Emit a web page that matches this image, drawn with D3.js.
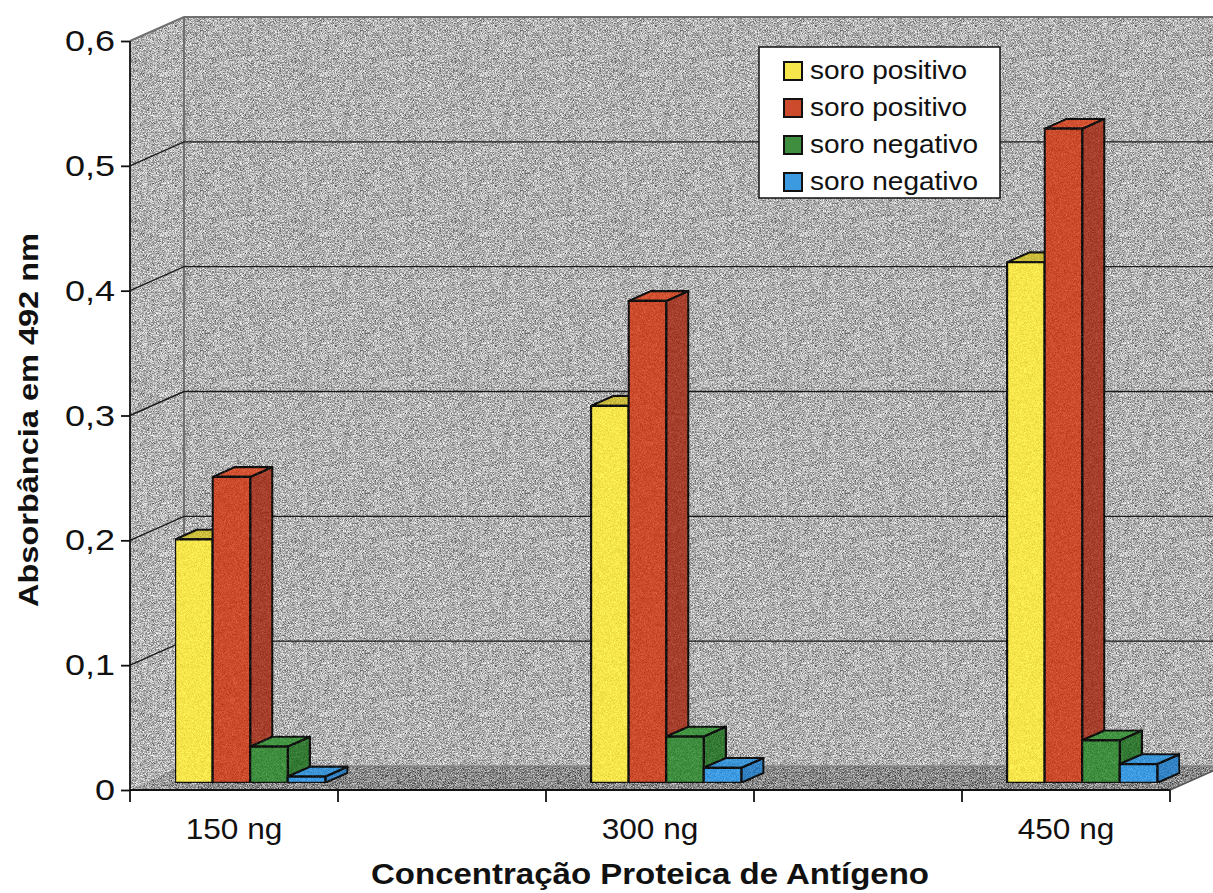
<!DOCTYPE html>
<html>
<head>
<meta charset="utf-8">
<script src="https://cdn.jsdelivr.net/npm/d3@7"></script>
<style>
  html, body { margin: 0; padding: 0; background: #ffffff; }
  svg { display: block; font-family: "Liberation Sans", Arial, sans-serif; }
</style>
</head>
<body>
<svg id="chart" width="1213" height="893"></svg>
<script>
// Absorbance (492 nm) per antigen concentration, four sera
const categories = ["150 ng", "300 ng", "450 ng"];
const seriesNames = ["soro positivo", "soro positivo", "soro negativo", "soro negativo"];
const positivo1 = [0.195, 0.302, 0.417];
const positivo2 = [0.245, 0.386, 0.524];
const negativo1 = [0.029, 0.037, 0.034];
const negativo2 = [0.005, 0.012, 0.015];
const yTicks = [0, 0.1, 0.2, 0.3, 0.4, 0.5, 0.6];

const seriesValues = [positivo1, positivo2, negativo1, negativo2];
const faceColors = [
  { front: "#f6e64c", top: "#cdbd3c", side: "#d6c53e" },
  { front: "#cc4b2d", top: "#d25231", side: "#a6402c" },
  { front: "#3f8d3e", top: "#439443", side: "#347a34" },
  { front: "#3c9ae0", top: "#3a94d6", side: "#3383c4" }
];

const svg = d3.select("#chart");
const W = 1213, H = 893;

// oblique depth offset of the 3D box
const depthX = 54, depthY = 24;
const xLeft = 130, xRight = 1170;

const y = d3.scaleLinear().domain([0, 0.6]).range([790, 41]);
// five slots along the floor; categories sit on every other slot
const slot = d3.scaleBand().domain(d3.range(5)).range([xLeft, xRight]);
const inner = d3.scaleBand().domain(d3.range(seriesNames.length))
  .range([0, slot.bandwidth()]).paddingInner(0).paddingOuter(0.77);

const P = (x, v, z) => [x + depthX * z, y(v) - depthY * z];

const defs = svg.append("defs");
function grainFilter(id, freq, amount, seed) {
  const f = defs.append("filter").attr("id", id)
    .attr("x", 0).attr("y", 0).attr("width", 1).attr("height", 1)
    .attr("color-interpolation-filters", "sRGB");
  f.append("feTurbulence").attr("type", "fractalNoise")
    .attr("baseFrequency", freq).attr("numOctaves", 1).attr("seed", seed).attr("result", "noise");
  f.append("feColorMatrix").attr("in", "noise").attr("type", "matrix")
    .attr("values", "1 0 0 0 0  1 0 0 0 0  1 0 0 0 0  0 0 0 0 1").attr("result", "gray");
  f.append("feComposite").attr("in", "SourceGraphic").attr("in2", "gray")
    .attr("operator", "arithmetic").attr("k1", 0).attr("k2", 1)
    .attr("k3", amount).attr("k4", -amount / 2).attr("result", "mixed");
  f.append("feComposite").attr("in", "mixed").attr("in2", "SourceGraphic").attr("operator", "in");
}
grainFilter("grain", 1.6, 1.3, 7);
grainFilter("softgrain", 1.5, 0.3, 3);

const floorGrad = defs.append("linearGradient").attr("id", "floorGrad")
  .attr("x1", 0).attr("y1", 0).attr("x2", 1).attr("y2", 0);
floorGrad.append("stop").attr("offset", 0).attr("stop-color", "#a2a2a2");
floorGrad.append("stop").attr("offset", 0.08).attr("stop-color", "#8a8a8a");
floorGrad.append("stop").attr("offset", 1).attr("stop-color", "#878787");

const line = d3.line();

// walls and floor
const walls = svg.append("g").attr("filter", "url(#grain)");
const v0 = 0, vTop = 0.6;
const backPoly = [P(xLeft, vTop, 1), [W + 20, P(xLeft, vTop, 1)[1]], [W + 20, P(xLeft, v0, 1)[1]], P(xLeft, v0, 1)];
walls.append("path").attr("d", line(backPoly) + "Z").attr("fill", "#b0b0b0");
const leftPoly = [P(xLeft, vTop, 0), P(xLeft, vTop, 1), P(xLeft, v0, 1), P(xLeft, v0, 0)];
walls.append("path").attr("d", line(leftPoly) + "Z").attr("fill", "#b2b2b2");
const floorPoly = [P(xLeft, v0, 0), P(xLeft, v0, 1), P(xRight, v0, 1), P(xRight, v0, 0)];
walls.append("path").attr("d", line(floorPoly) + "Z").attr("fill", "url(#floorGrad)");

// wall edges
const edges = svg.append("g").attr("fill", "none").attr("stroke", "#707070").attr("stroke-width", 2);
edges.append("path").attr("d", line([P(xLeft, vTop, 0), P(xLeft, vTop, 1), [W + 20, P(xLeft, vTop, 1)[1]]]));
edges.append("path").attr("d", line([P(xLeft, vTop, 1), P(xLeft, v0, 1)]));
edges.append("path").attr("d", line([P(xLeft, v0, 1), [W + 20, P(xLeft, v0, 1)[1]]])).attr("stroke", "#7a7a7a").attr("stroke-width", 1);
edges.append("path").attr("d", line([P(xRight, v0, 0), P(xRight, v0, 1)])).attr("stroke", "#555").attr("stroke-width", 1.5);

// gridlines on the left and back walls
const grid = svg.append("g").attr("fill", "none").attr("stroke", "#1a1a1a").attr("stroke-width", 1.4);
yTicks.filter(t => t > 0 && t < 0.6).forEach(t => {
  grid.append("path").attr("d", line([P(xLeft, t, 0), P(xLeft, t, 1), [W + 20, P(xLeft, t, 1)[1]]]));
});

// bars
const z0 = 0.3, z1 = 0.71;
const barsG = svg.append("g").attr("filter", "url(#softgrain)")
  .attr("stroke", "#111").attr("stroke-width", 2.2).attr("stroke-linejoin", "round");
categories.forEach((cat, ci) => {
  const x0slot = slot(ci * 2);
  seriesValues.forEach((vals, si) => {
    const v = vals[ci];
    const c = faceColors[si];
    const bx = x0slot + inner(si);
    const bw = inner.bandwidth();
    const fTL = P(bx, v, z0), fTR = P(bx + bw, v, z0);
    const fBL = P(bx, 0, z0), fBR = P(bx + bw, 0, z0);
    const bTL = P(bx, v, z1), bTR = P(bx + bw, v, z1), bBR = P(bx + bw, 0, z1);
    const g = barsG.append("g");
    g.append("path").attr("d", line([fTR, bTR, bBR, fBR]) + "Z").attr("fill", c.side);
    g.append("path").attr("d", line([fTL, fTR, bTR, bTL]) + "Z").attr("fill", c.top);
    g.append("path").attr("d", line([fTL, fTR, fBR, fBL]) + "Z").attr("fill", c.front);
  });
});

// axis lines
const axes = svg.append("g").attr("stroke", "#111").attr("stroke-width", 1.8).attr("fill", "none");
axes.append("path").attr("d", line([[xLeft, y(0.6)], [xLeft, y(0)], [xRight, y(0)]]));

const stretch = (sel, k) => sel.each(function () {
  const w = this.getComputedTextLength();
  d3.select(this).attr("textLength", w * k).attr("lengthAdjust", "spacingAndGlyphs");
});

// y axis ticks and labels
const yAxis = d3.axisLeft(y).tickValues(yTicks).tickSize(9).tickSizeOuter(0)
  .tickPadding(6).tickFormat(d => d3.format(".1f")(d).replace(".", ",").replace(/^0,0$/, "0"));
const yg = svg.append("g").attr("transform", `translate(${xLeft},0)`).call(yAxis);
yg.select(".domain").remove();
yg.selectAll(".tick line").attr("stroke", "#111").attr("stroke-width", 1.8);
yg.selectAll(".tick text").attr("fill", "#111").attr("font-size", 30)
  .attr("font-family", "Liberation Sans, Arial, sans-serif");
stretch(yg.selectAll(".tick text"), 1.2);

// x axis ticks at slot boundaries
const xTickPos = slot.domain().map(d => slot(d)).concat([xRight]);
svg.append("g").selectAll("line").data(xTickPos).join("line")
  .attr("x1", d => d).attr("x2", d => d).attr("y1", y(0)).attr("y2", y(0) + 12)
  .attr("stroke", "#111").attr("stroke-width", 1.8);

const xl = svg.append("g").selectAll("text").data(categories).join("text")
  .attr("x", (d, i) => slot(i * 2) + slot.bandwidth() / 2)
  .attr("y", 839).attr("text-anchor", "middle")
  .attr("font-size", 29).attr("fill", "#111").text(d => d);
stretch(xl, 1.09);

// axis titles
const xt = svg.append("text").attr("x", 650).attr("y", 884).attr("text-anchor", "middle")
  .attr("font-size", 29).attr("font-weight", "bold").attr("fill", "#111")
  .text("Concentração Proteica de Antígeno");
xt.attr("textLength", 558).attr("lengthAdjust", "spacingAndGlyphs");

const yt = svg.append("text").attr("transform", "translate(38,420) rotate(-90)")
  .attr("text-anchor", "middle").attr("font-size", 27).attr("font-weight", "bold").attr("fill", "#111")
  .text("Absorbância em 492 nm");
yt.attr("textLength", 374).attr("lengthAdjust", "spacingAndGlyphs");

// legend
const lg = svg.append("g");
lg.append("rect").attr("x", 759).attr("y", 47).attr("width", 241).attr("height", 151)
  .attr("fill", "#ffffff").attr("stroke", "#111").attr("stroke-width", 1.5);
seriesNames.forEach((name, i) => {
  const cy = 71 + i * 37;
  lg.append("rect").attr("x", 784).attr("y", cy - 9).attr("width", 18).attr("height", 18)
    .attr("fill", faceColors[i].front).attr("stroke", "#111").attr("stroke-width", 2);
  const t = lg.append("text").attr("x", 810).attr("y", cy + 8).attr("font-size", 25)
    .attr("fill", "#111").text(name);
  stretch(t, 1.12);
});
</script>
</body>
</html>
